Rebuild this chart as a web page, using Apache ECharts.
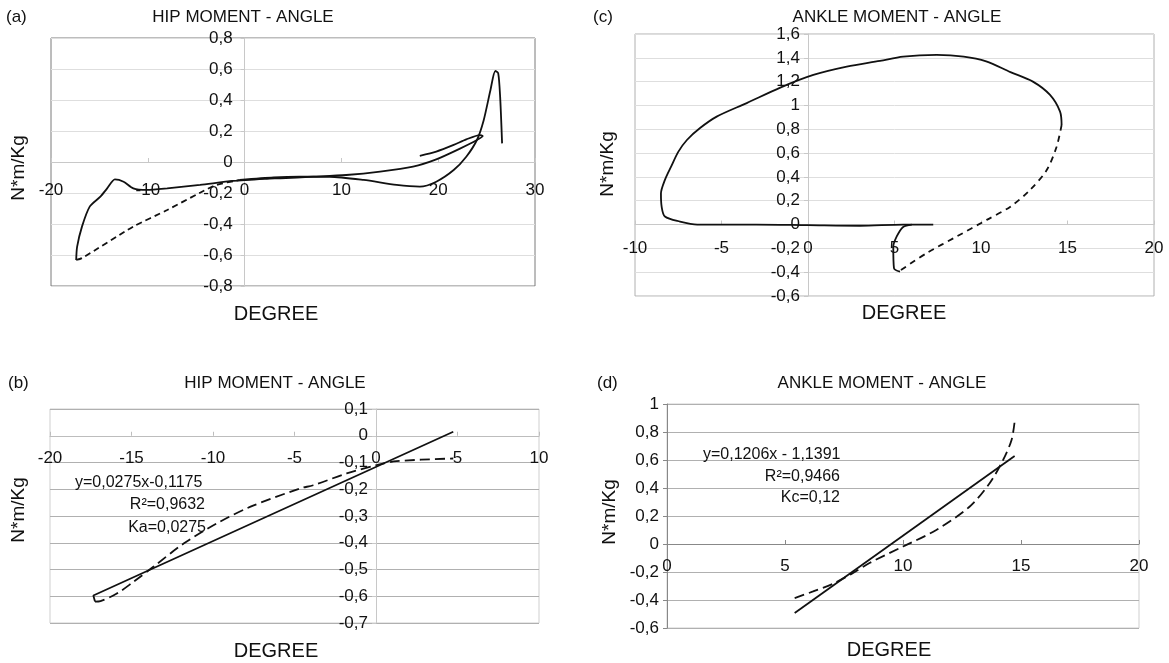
<!DOCTYPE html>
<html>
<head>
<meta charset="utf-8">
<script src="https://cdn.jsdelivr.net/npm/echarts@6/dist/echarts.min.js"></script>
<style>html,body{margin:0;padding:0;background:#fff}#c{width:1169px;height:663px}</style>
</head>
<body>
<div id="c"></div>
<script>
// ---- (a) HIP MOMENT - ANGLE ----
const hipA_solid1 = [[18.1,0.04],[19.8,0.067],[21.6,0.11],[22.9,0.146],[24.3,0.174],[24.6,0.168],[24.0,0.142],[22.3,0.088],[19.8,0.017],[17.4,-0.03],[14.0,-0.062],[10.5,-0.084],[7.1,-0.095],[3.7,-0.105],[2.3,-0.108],[-1.2,-0.122],[-4.6,-0.148],[-8.0,-0.17],[-10.1,-0.18],[-11.5,-0.17],[-12.5,-0.127],[-13.4,-0.112],[-14.2,-0.17],[-14.9,-0.224],[-16.0,-0.288],[-16.8,-0.417],[-17.3,-0.546],[-17.4,-0.632]];
const hipA_dashed = [[-17.4,-0.632],[-16.8,-0.62],[-11.5,-0.417],[-8.0,-0.31],[-4.6,-0.198],[-2.9,-0.148],[-0.5,-0.116]];
const hipA_solid2 = [[-0.5,-0.116],[3.0,-0.1],[5.7,-0.095],[8.8,-0.095],[12.3,-0.116],[15.7,-0.148],[18.1,-0.159],[19.8,-0.127],[21.6,-0.052],[22.9,0.034],[24.0,0.142],[24.7,0.27],[25.4,0.465],[25.9,0.587],[26.2,0.572],[26.4,0.42],[26.6,0.12]];
// ---- (c) ANKLE MOMENT - ANGLE ----
const ankleC_solid1 = [[7.24,0],[5.5,0],[3,-0.01],[0,-0.005],[-3,0],[-6.4,0],[-7.4,0.025],[-8.27,0.067],[-8.46,0.15],[-8.5,0.26],[-8.27,0.375],[-7.9,0.49],[-7.5,0.61],[-7.0,0.71],[-6.24,0.81],[-5.28,0.906],[-3.54,1.02],[-1.6,1.15],[0.31,1.256],[2.24,1.326],[4.16,1.374],[5.5,1.41],[7.44,1.424],[9.0,1.41],[10.3,1.37],[11.7,1.28],[13.0,1.2],[13.99,1.088],[14.57,0.948],[14.66,0.836]];
const ankleC_dashed = [[14.66,0.836],[14.37,0.654],[13.8,0.458],[12.83,0.29],[11.7,0.15],[10.33,0.039],[8.6,-0.1],[6.86,-0.24],[5.32,-0.387]];
const ankleC_solid2 = [[5.32,-0.395],[4.97,-0.367],[4.93,-0.186],[5.13,-0.1],[5.5,-0.02],[6.0,0]];
// ---- (b) HIP MOMENT - ANGLE (fit) ----
const hipB_fit = [[-17.24,-0.62],[-17.34,-0.597],[4.74,0.015]];
const hipB_dashed = [[-17.24,-0.62],[-16.9,-0.618],[-15.9,-0.59],[-14.9,-0.547],[-13.66,-0.49],[-11.8,-0.403],[-9.77,-0.328],[-7.73,-0.266],[-4.66,-0.197],[-3.85,-0.185],[-1.8,-0.141],[0.04,-0.11],[1.27,-0.095],[4.74,-0.085]];
// ---- (d) ANKLE MOMENT - ANGLE (fit) ----
const ankleD_fit = [[5.41,-0.493],[14.73,0.629]];
const ankleD_dashed = [[5.41,-0.386],[6.19,-0.339],[7.03,-0.284],[7.8,-0.215],[8.58,-0.136],[10.0,-0.018],[11.41,0.1],[12.83,0.268],[13.67,0.434],[14.24,0.6],[14.6,0.743],[14.73,0.874]];

const panelTitles = ['HIP MOMENT - ANGLE','ANKLE MOMENT - ANGLE','HIP MOMENT - ANGLE','ANKLE MOMENT - ANGLE'];
const panelTags = ['(a)','(c)','(b)','(d)'];
const xName = 'DEGREE';
const yName = 'N*m/Kg';
const eqB = ['y=0,0275x-0,1175','R²=0,9632','Ka=0,0275'];
const eqD = ['y=0,1206x - 1,1391','R²=0,9466','Kc=0,12'];

const FONT = 'Liberation Sans, Arial, sans-serif';
function fmt(v){ const r = Math.round(v*100)/100; return (r===0?'0':String(r)).replace('.', ','); }

// panel layouts
const G = [
  {left:51,top:38,width:484,height:248,border:'#7a7a7a'},
  {left:635,top:34,width:519,height:262,border:'#b0b0b0'},
  {left:50,top:409,width:489,height:214,border:'#cfcfcf'},
  {left:667,top:404,width:472,height:224,border:'#cfcfcf'}
];
const XR = [[-20,30,10],[-10,20,5],[-20,10,5],[0,20,5]];
const YR = [[-0.8,0.8,0.2],[-0.6,1.6,0.2],[-0.7,0.1,0.1],[-0.6,1,0.2]];

function xAx(gi,axisColor,margin){
  const g=G[gi], [ymin,ymax]=YR[gi], [min,max,interval]=XR[gi];
  const y0 = g.top + g.height*(ymax-0)/(ymax-ymin);
  const off = -((g.top+g.height)-y0);
  return {type:'value',gridIndex:gi,min,max,interval,position:'bottom',offset:off,
    axisLine:{onZero:false,lineStyle:{color:axisColor,width:1}},
    axisTick:{show:true,inside:true,length:4,lineStyle:{color:axisColor}},
    splitLine:{show:false},
    axisLabel:{formatter:fmt,color:'#111',fontSize:17,fontFamily:FONT,margin,showMinLabel:true,showMaxLabel:true}};
}
function yAx(gi,axisColor,gridColor,margin){
  const g=G[gi], [xmin,xmax]=XR[gi], [min,max,interval]=YR[gi];
  const x0 = g.left + g.width*(0-xmin)/(xmax-xmin);
  const off = -(x0-g.left);
  return {type:'value',gridIndex:gi,min,max,interval,position:'left',offset:off,
    axisLine:{show:true,onZero:false,lineStyle:{color:axisColor,width:1}},
    axisTick:{show:true,length:4,lineStyle:{color:axisColor}},
    splitLine:{show:true,lineStyle:{color:gridColor,width:1}},
    axisLabel:{formatter:fmt,color:'#111',fontSize:17,fontFamily:FONT,margin}};
}
function line(gi,data,dash,smooth){
  return {type:'line',xAxisIndex:gi,yAxisIndex:gi,data,showSymbol:false,symbol:'none',smooth:smooth||false,
    animation:false,lineStyle:{color:'#111',width:1.8,type:dash||'solid'},z:5};
}
function txt(x,y,s,opts){
  opts=opts||{};
  return {type:'text',x,y,rotation:opts.rot||0,z:10,
    style:{text:s,fill:'#111',font:(opts.size||16)+'px '+FONT,textAlign:opts.align||'center',textVerticalAlign:'middle'}};
}

const chart = echarts.init(document.getElementById('c'),null,{renderer:'canvas'});
chart.setOption({
  animation:false,
  backgroundColor:'#fff',
  grid:G.map(g=>({left:g.left,top:g.top,width:g.width,height:g.height,show:true,borderColor:g.border,borderWidth:1,backgroundColor:'#fff'})),
  xAxis:[
    xAx(0,'#c8c8c8',20),
    xAx(1,'#c8c8c8',15),
    xAx(2,'#bdbdbd',14),
    xAx(3,'#888',14)
  ],
  yAxis:[
    yAx(0,'#c8c8c8','#dedede',12),
    yAx(1,'#c8c8c8','#dedede',8),
    yAx(2,'#c8c8c8','#b0b0b0',8),
    yAx(3,'#888','#b0b0b0',8)
  ],
  series:[
    line(0,hipA_solid1,null,0.25),line(0,hipA_dashed,[6,4],0.25),line(0,hipA_solid2,null,0.25),
    line(1,ankleC_solid1,null,0.3),line(1,ankleC_dashed,[6,5],0.3),line(1,ankleC_solid2,null,0.3),
    line(2,hipB_fit),line(2,hipB_dashed,[10,5],0.3),
    line(3,ankleD_fit),line(3,ankleD_dashed,[10,5],0.3)
  ],
  graphic:[
    txt(6,17,panelTags[0],{align:'left',size:17}),
    txt(243,17,panelTitles[0],{size:17}),
    txt(593,17,panelTags[1],{align:'left',size:17}),
    txt(897,17,panelTitles[1],{size:17}),
    txt(8,383,panelTags[2],{align:'left',size:17}),
    txt(275,383,panelTitles[2],{size:17}),
    txt(597,383,panelTags[3],{align:'left',size:17}),
    txt(882,383,panelTitles[3],{size:17}),
    txt(276,314,xName,{size:20}),
    txt(904,313,xName,{size:20}),
    txt(276,651,xName,{size:20}),
    txt(889,650,xName,{size:20}),
    txt(19,168,yName,{size:19,rot:Math.PI/2}),
    txt(608,164,yName,{size:19,rot:Math.PI/2}),
    txt(19,510,yName,{size:19,rot:Math.PI/2}),
    txt(610,512,yName,{size:19,rot:Math.PI/2}),
    txt(75,483,eqB[0],{align:'left',size:16}),
    txt(205,505,eqB[1],{align:'right',size:16}),
    txt(206,528,eqB[2],{align:'right',size:16}),
    txt(703,455,eqD[0],{align:'left',size:16}),
    txt(840,477,eqD[1],{align:'right',size:16}),
    txt(840,498,eqD[2],{align:'right',size:16})
  ]
});
</script>
</body>
</html>
